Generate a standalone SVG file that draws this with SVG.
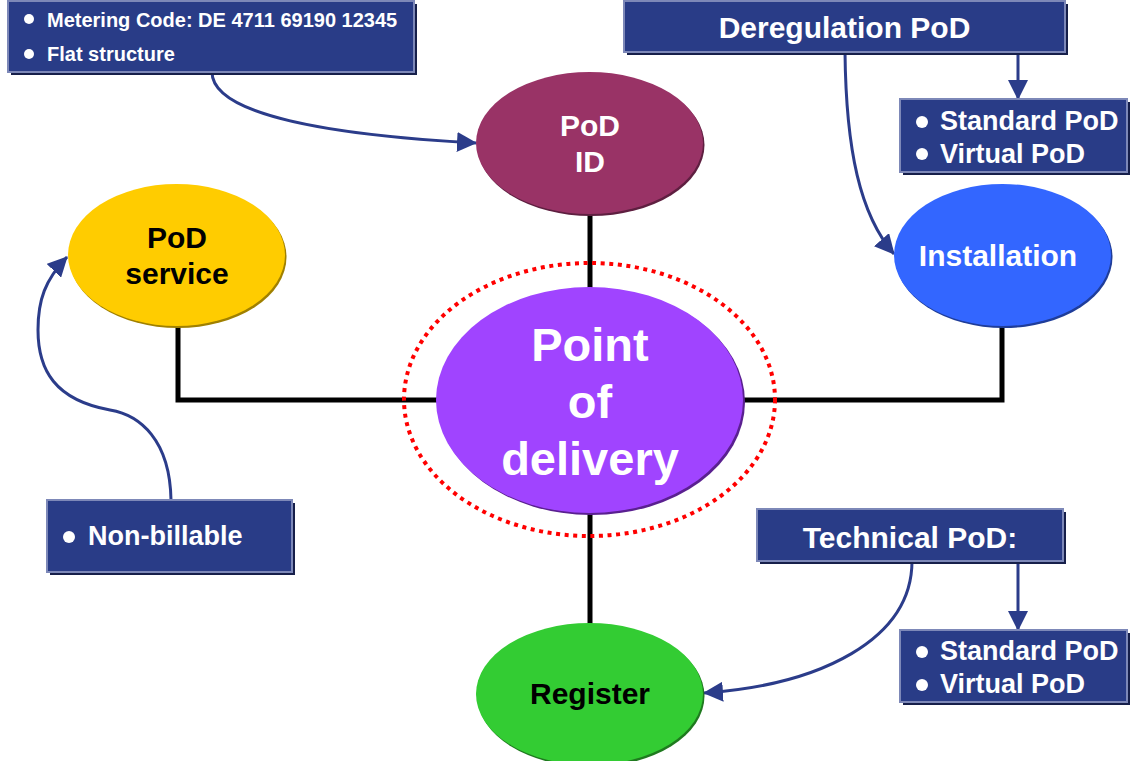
<svg xmlns="http://www.w3.org/2000/svg" width="1130" height="761" viewBox="0 0 1130 761">
  <defs>
    <marker id="arrow" markerUnits="userSpaceOnUse" markerWidth="20" markerHeight="20" viewBox="0 0 20 20" refX="19" refY="10" orient="auto">
      <path d="M0,0 L20,10 L0,20 z" fill="#2B3C8A"/>
    </marker>
  </defs>
  <style>
    .box { fill: #293C87; stroke: #7D88B8; stroke-width: 2; }
    .box-shadow { fill: #161F4A; }
    .box-text { font-family: "Liberation Sans", Arial, sans-serif; font-weight: bold; fill: #FFFFFF; }
    .node-text { font-family: "Liberation Sans", Arial, sans-serif; font-weight: bold; font-size: 30px; text-anchor: middle; }
    .big-text { font-size: 47px; }
    .bullet { fill: #FFFFFF; }
    .link { fill: none; stroke: #000000; stroke-width: 5; }
    .flow { fill: none; stroke: #2B3C8A; stroke-width: 3; marker-end: url(#arrow); }
  </style>

  <!-- black connectors between the central ellipse and its satellites -->
  <g id="connectors">
    <path class="link" d="M590,214 L590,290"/>
    <path class="link" d="M590,510 L590,625"/>
    <path class="link" d="M178,324 L178,400 L440,400"/>
    <path class="link" d="M1002,324 L1002,400 L740,400"/>
    <!-- blue annotation arrows -->
    <path class="flow" d="M212,72 C 212,115 330,135 476,143"/>
    <path class="flow" d="M845,52 C 846,150 860,215 894,254"/>
    <path class="flow" d="M1018,52 L1018,99"/>
    <path class="flow" d="M171,500 C 170,440 140,415 110,410 C 55,400 38,370 38,330 C 38,300 45,280 67,257"/>
    <path class="flow" d="M912,561 C 912,640 820,685 704,693"/>
    <path class="flow" d="M1018,561 L1018,630"/>
  </g>

  <g id="pod-id">
    <ellipse cx="591" cy="145" rx="113.5" ry="71" fill="#5E1F40"/>
    <ellipse cx="589.5" cy="143" rx="113.5" ry="71" fill="#993366"/>
    <text class="node-text" x="590" y="136" fill="#FFFFFF">PoD</text>
    <text class="node-text" x="590" y="172" fill="#FFFFFF">ID</text>
  </g>

  <g id="pod-service">
    <ellipse cx="178" cy="257" rx="108.5" ry="71" fill="#A08000"/>
    <ellipse cx="176.5" cy="255" rx="108.5" ry="71" fill="#FFCC00"/>
    <text class="node-text" x="177" y="248" fill="#000000">PoD</text>
    <text class="node-text" x="177" y="284" fill="#000000">service</text>
  </g>

  <g id="installation">
    <ellipse cx="1004" cy="257" rx="108.5" ry="71" fill="#1F3D99"/>
    <ellipse cx="1002.5" cy="255" rx="108.5" ry="71" fill="#3366FF"/>
    <text class="node-text" x="998" y="266" fill="#FFFFFF">Installation</text>
  </g>

  <g id="point-of-delivery">
    <ellipse cx="591.5" cy="402" rx="153.5" ry="113" fill="#5A2090"/>
    <ellipse cx="589.5" cy="400" rx="153.5" ry="113" fill="#A044FF"/>
    <ellipse cx="589.5" cy="399.5" rx="185.5" ry="136.5" fill="none" stroke="#FF0000" stroke-width="4" stroke-dasharray="4 4.6"/>
    <text class="node-text big-text" x="590" y="361" fill="#FFFFFF">Point</text>
    <text class="node-text big-text" x="590" y="418" fill="#FFFFFF">of</text>
    <text class="node-text big-text" x="590" y="475" fill="#FFFFFF">delivery</text>
  </g>

  <g id="register">
    <ellipse cx="591" cy="696" rx="113.5" ry="71" fill="#1F7A1F"/>
    <ellipse cx="589.5" cy="694" rx="113.5" ry="71" fill="#33CC33"/>
    <text class="node-text" x="590" y="704" fill="#000000">Register</text>
  </g>

  <g id="metering-box">
    <rect class="box-shadow" x="11" y="4" width="406" height="71"/>
    <rect class="box" x="8" y="1" width="406" height="71"/>
    <circle class="bullet" cx="29" cy="19" r="5"/>
    <text class="box-text" x="47" y="26.5" font-size="20">Metering Code: DE 4711 69190 12345</text>
    <circle class="bullet" cx="29" cy="54" r="5"/>
    <text class="box-text" x="47" y="61" font-size="20">Flat structure</text>
  </g>

  <g id="deregulation-box">
    <rect class="box-shadow" x="627" y="4" width="441" height="51"/>
    <rect class="box" x="624" y="1" width="441" height="51"/>
    <text class="box-text" x="844.5" y="38" font-size="30" text-anchor="middle">Deregulation PoD</text>
  </g>

  <g id="deregulation-types">
    <rect class="box-shadow" x="903" y="102" width="227" height="73"/>
    <rect class="box" x="900" y="99" width="227" height="73"/>
    <circle class="bullet" cx="922" cy="122" r="6"/>
    <text class="box-text" x="940" y="130" font-size="27">Standard PoD</text>
    <circle class="bullet" cx="922" cy="154" r="6"/>
    <text class="box-text" x="940" y="163" font-size="27">Virtual PoD</text>
  </g>

  <g id="non-billable-box">
    <rect class="box-shadow" x="50" y="503" width="245" height="72"/>
    <rect class="box" x="47" y="500" width="245" height="72"/>
    <circle class="bullet" cx="69" cy="537" r="6"/>
    <text class="box-text" x="88" y="545" font-size="27">Non-billable</text>
  </g>

  <g id="technical-box">
    <rect class="box-shadow" x="760" y="512" width="306" height="52"/>
    <rect class="box" x="757" y="509" width="306" height="52"/>
    <text class="box-text" x="910" y="548" font-size="30" text-anchor="middle">Technical PoD:</text>
  </g>

  <g id="technical-types">
    <rect class="box-shadow" x="903" y="633" width="227" height="72"/>
    <rect class="box" x="900" y="630" width="227" height="72"/>
    <circle class="bullet" cx="922" cy="652" r="6"/>
    <text class="box-text" x="940" y="660" font-size="27">Standard PoD</text>
    <circle class="bullet" cx="922" cy="685" r="6"/>
    <text class="box-text" x="940" y="693" font-size="27">Virtual PoD</text>
  </g>
</svg>
